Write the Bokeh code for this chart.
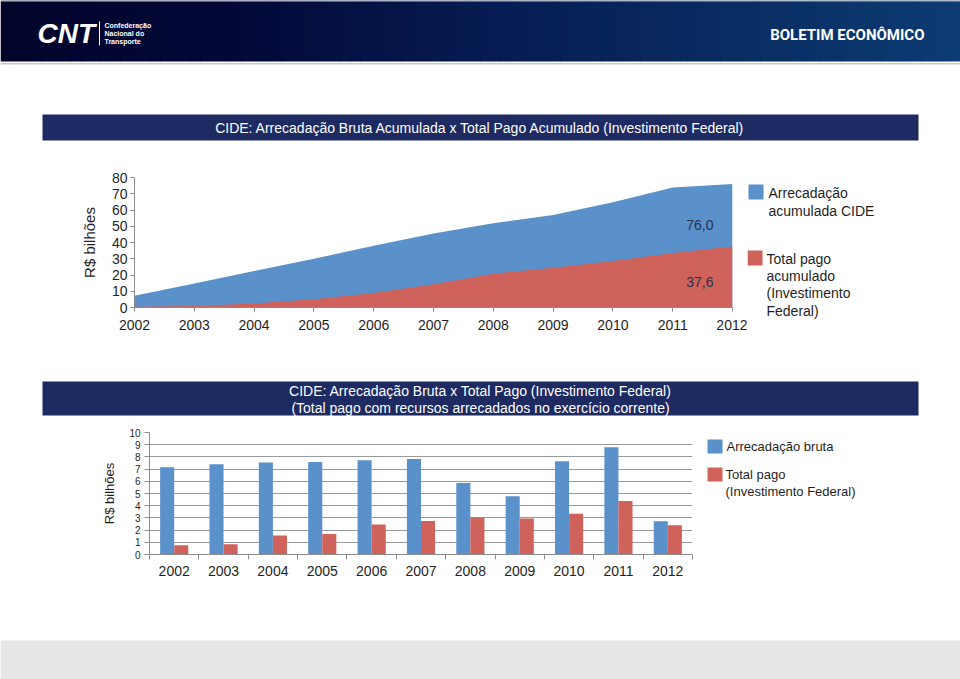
from bokeh.plotting import figure
from bokeh.layouts import column, row
from bokeh.models import Range1d, FixedTicker, ColumnDataSource
from bokeh.core.properties import value
from bokeh.embed import file_html
from bokeh.resources import INLINE

# ---------------- data ----------------
years = [2002, 2003, 2004, 2005, 2006, 2007, 2008, 2009, 2010, 2011, 2012]
year_labels = [str(y) for y in years]

# cumulative (top chart)
arrecadacao_acumulada = [7.2, 14.7, 22.4, 30.0, 38.0, 45.6, 51.8, 56.9, 64.7, 73.9, 76.0]
total_pago_acumulado = [0.4, 1.0, 2.4, 5.1, 9.0, 14.3, 20.8, 24.5, 28.6, 33.5, 37.6]

# yearly (bottom chart)
arrecadacao_bruta = [7.15, 7.39, 7.55, 7.58, 7.72, 7.83, 5.87, 4.78, 7.64, 8.80, 2.72]
total_pago = [0.76, 0.84, 1.55, 1.68, 2.45, 2.74, 3.04, 2.96, 3.34, 4.38, 2.39]

top_title = "CIDE: Arrecadação Bruta Acumulada x Total Pago Acumulado (Investimento Federal)"
bottom_title = ["CIDE: Arrecadação Bruta x Total Pago (Investimento Federal)",
                "(Total pago com recursos arrecadados no exercício corrente)"]
y_label = "R$ bilhões"

# ---------------- style ----------------
BLUE = "#5a91cb"
RED = "#cf625b"
NAVY = "#1e2a62"
TXT = "#1f1f1f"
AXIS = "#8c8c8c"
FONT = value("Liberation Sans")


def canvas(x0, x1, y0, y1, bg="white"):
    p = figure(width=int(x1 - x0), height=int(y1 - y0),
               x_range=Range1d(x0, x1), y_range=Range1d(y1, y0),
               x_axis_location=None, y_axis_location=None,
               toolbar_location=None, output_backend="svg", title=None,
               min_border=0, outline_line_color=None,
               background_fill_color=bg, border_fill_color=bg)
    p.grid.visible = False
    p.frame_align = False
    return p


def txt(p, x, y, s, size="14px", color=TXT, align="left", style="normal", font=FONT):
    p.text(x=[x], y=[y], text=[s], text_font=font, text_font_size=value(size),
           text_color=color, text_align=align, text_baseline="middle",
           text_font_style=style)


# ---------------- header ----------------
head = canvas(0, 960, 0, 160)
stops = [(0, (2, 4, 42)), (230, (3, 8, 56)), (520, (6, 30, 84)), (960, (12, 60, 114))]


def grad(x):
    for (a, ca), (b, cb) in zip(stops[:-1], stops[1:]):
        if a <= x <= b:
            t = (x - a) / (b - a)
            c = [int(round(ca[k] + (cb[k] - ca[k]) * t)) for k in range(3)]
            return "#%02x%02x%02x" % tuple(c)
    return "#0c3c72"


n = 96
lefts = [i * 10 for i in range(n)]
head.quad(left=lefts, right=[l + 10.6 for l in lefts], top=0, bottom=61,
          fill_color=[grad(l + 5) for l in lefts], line_color=None)
head.quad(left=0, right=960, top=0, bottom=1.2, fill_color="#7d869c", line_color=None)
head.quad(left=0, right=960, top=62.5, bottom=64, fill_color="#c3c7d1", line_color=None)
txt(head, 37, 33, "CNT", size="28px", color="white", style="bold italic")
head.segment(x0=[99], y0=[21], x1=[99], y1=[45], line_color="white", line_width=1)
for i, s in enumerate(["Confederação", "Nacional do", "Transporte"]):
    txt(head, 104, 25 + i * 8, s, size="7px", color="white", style="bold")
txt(head, 924, 34, "BOLETIM ECONÔMICO", size="15px", color="white", align="right",
    style="bold", font=value("Roboto"))

head.quad(left=42, right=918, top=114, bottom=140, fill_color=NAVY, line_color=None)
txt(head, 480, 127.5, top_title, size="14px", color="white", align="center")

# ---------------- top chart ----------------
p1 = figure(width=747, height=195, x_range=Range1d(years[0], years[-1]),
            y_range=Range1d(0, 80), toolbar_location=None, output_backend="svg",
            title=None, min_border_left=134, min_border_right=15,
            min_border_top=17, min_border_bottom=48, outline_line_color=None,
            background_fill_color="white", border_fill_color="white")
p1.frame_align = False
p1.grid.visible = False
p1.varea(x=years, y1=0, y2=arrecadacao_acumulada, fill_color=BLUE)
p1.varea(x=years, y1=0, y2=total_pago_acumulado, fill_color=RED)
lab_y = [arrecadacao_acumulada[-1] * 0.665, total_pago_acumulado[-1] * 0.41]
lab_t = [("%.1f" % arrecadacao_acumulada[-1]).replace(".", ","),
         ("%.1f" % total_pago_acumulado[-1]).replace(".", ",")]
p1.text(x=[years[-1]] * 2, y=lab_y, text=lab_t, x_offset=-19, text_align="right",
        text_baseline="middle", text_font=FONT, text_font_size=value("14px"),
        text_color="#26324a")

p1.xaxis.ticker = FixedTicker(ticks=years)
p1.xaxis.major_label_overrides = {y: l for y, l in zip(years, year_labels)}
p1.yaxis.ticker = FixedTicker(ticks=list(range(0, 81, 10)))
p1.yaxis.axis_label = y_label
for ax in (p1.xaxis, p1.yaxis):
    ax.axis_line_color = AXIS
    ax.major_tick_line_color = AXIS
    ax.minor_tick_line_color = None
    ax.major_tick_in = 0
    ax.major_tick_out = 4
    ax.major_label_text_font = "Liberation Sans"
    ax.major_label_text_font_size = "14px"
    ax.major_label_text_color = TXT
p1.xaxis.major_label_standoff = 8
p1.yaxis.major_label_standoff = 3
p1.yaxis.axis_label_text_font = "Liberation Sans"
p1.yaxis.axis_label_text_font_size = "15px"
p1.yaxis.axis_label_text_font_style = "normal"
p1.yaxis.axis_label_text_color = TXT
p1.yaxis.axis_label_standoff = 11

leg1 = canvas(747, 960, 160, 355)
leg1.quad(left=748, right=763, top=184, bottom=199, fill_color=BLUE, line_color=None)
txt(leg1, 768, 192, "Arrecadação")
txt(leg1, 768, 210, "acumulada CIDE")
leg1.quad(left=747, right=762, top=250, bottom=265, fill_color=RED, line_color=None)
for i, s in enumerate(["Total pago", "acumulado", "(Investimento", "Federal)"]):
    txt(leg1, 766, 258 + i * 17.4, s)

# ---------------- bottom title ----------------
mid = canvas(0, 960, 355, 420)
mid.quad(left=42, right=918, top=381, bottom=415, fill_color=NAVY, line_color=None)
txt(mid, 480, 390, bottom_title[0], color="white", align="center")
txt(mid, 480, 407, bottom_title[1], color="white", align="center")

# ---------------- bottom chart ----------------
idx = list(range(len(years)))
src = ColumnDataSource(dict(
    xb=[i + 0.5 - 0.1425 for i in idx], xr=[i + 0.5 + 0.1425 for i in idx],
    arr=arrecadacao_bruta, pago=total_pago))
p2 = figure(width=700, height=180, x_range=Range1d(0, len(years)),
            y_range=Range1d(0, 10), toolbar_location=None, output_backend="svg",
            title=None, min_border_left=149, min_border_right=8,
            min_border_top=12, min_border_bottom=46, outline_line_color=None,
            background_fill_color="white", border_fill_color="white")
p2.frame_align = False
p2.xgrid.visible = False
p2.ygrid.grid_line_color = "#9a9a9a"
p2.ygrid.grid_line_width = 1
p2.vbar(x="xb", top="arr", width=0.285, source=src, fill_color=BLUE, line_color=None)
p2.vbar(x="xr", top="pago", width=0.285, source=src, fill_color=RED, line_color=None)

p2.xaxis.ticker = FixedTicker(ticks=[i + 0.5 for i in idx],
                              minor_ticks=list(range(len(years) + 1)))
p2.xaxis.major_label_overrides = {i + 0.5: l for i, l in zip(idx, year_labels)}
p2.xaxis.major_tick_line_color = None
p2.xaxis.major_tick_out = 0
p2.xaxis.major_tick_in = 0
p2.xaxis.minor_tick_line_color = AXIS
p2.xaxis.minor_tick_out = 5
p2.xaxis.minor_tick_in = 0
p2.xaxis.major_label_standoff = 6
p2.xaxis.major_label_text_font_size = "14px"
p2.yaxis.ticker = FixedTicker(ticks=list(range(0, 11)))
p2.yaxis.minor_tick_line_color = None
p2.yaxis.major_tick_line_color = AXIS
p2.yaxis.major_tick_in = 0
p2.yaxis.major_tick_out = 5
p2.yaxis.major_label_standoff = 4
p2.yaxis.major_label_text_font_size = "10px"
p2.yaxis.axis_label = y_label
p2.yaxis.axis_label_text_font = "Liberation Sans"
p2.yaxis.axis_label_text_font_size = "13px"
p2.yaxis.axis_label_text_font_style = "normal"
p2.yaxis.axis_label_text_color = TXT
p2.yaxis.axis_label_standoff = 9
for ax in (p2.xaxis, p2.yaxis):
    ax.axis_line_color = AXIS
    ax.major_label_text_font = "Liberation Sans"
    ax.major_label_text_color = TXT

leg2 = canvas(700, 960, 420, 600)
leg2.quad(left=707, right=722, top=439, bottom=453, fill_color=BLUE, line_color=None)
txt(leg2, 726, 446, "Arrecadação bruta", size="13px")
leg2.quad(left=707, right=722, top=467, bottom=481, fill_color=RED, line_color=None)
txt(leg2, 725, 474, "Total pago", size="13px")
txt(leg2, 725, 491, "(Investimento Federal)", size="13px")

# ---------------- footer ----------------
foot = canvas(0, 960, 600, 679)
foot.quad(left=0, right=960, top=640, bottom=679, fill_color="#e6e6e6", line_color=None)

layout = column(head, row(p1, leg1), mid, row(p2, leg2), foot)
open("out.html", "w").write(file_html(layout, INLINE))
